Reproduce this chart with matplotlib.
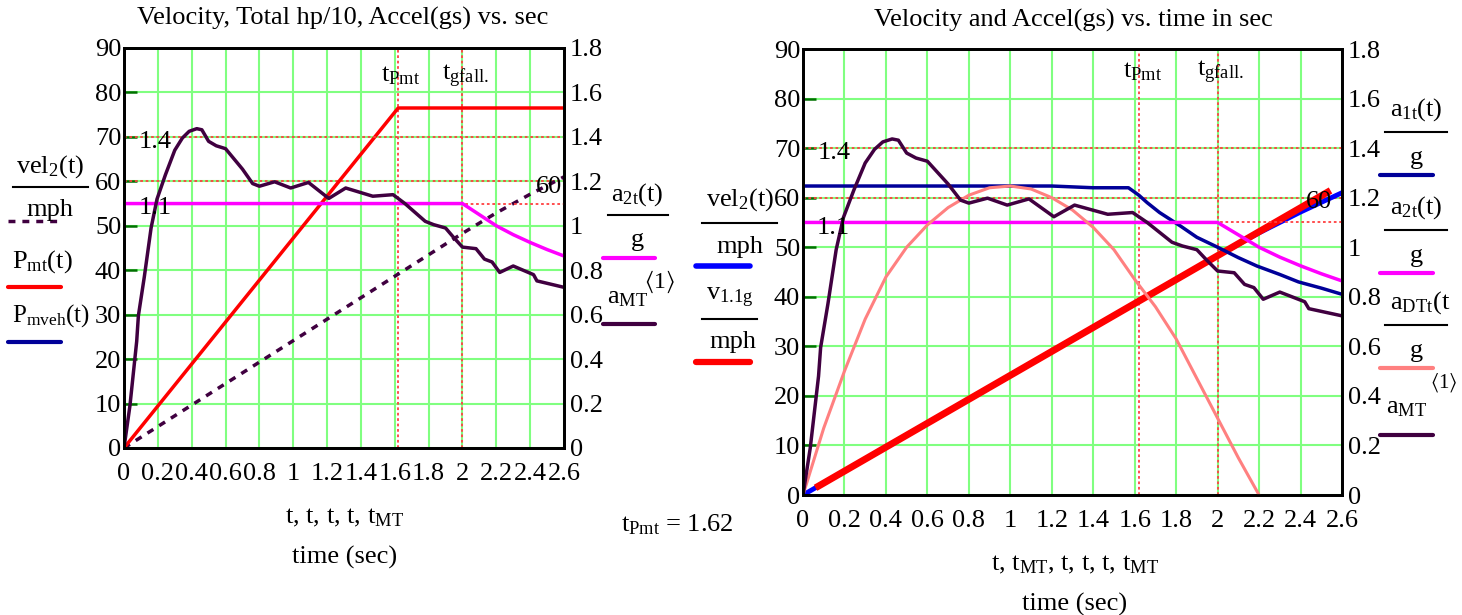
import numpy as np
import matplotlib
matplotlib.use('Agg')
import matplotlib.pyplot as plt
from matplotlib.lines import Line2D

plt.rcParams['font.family'] = 'Liberation Serif'
plt.rcParams['mathtext.fontset'] = 'custom'
plt.rcParams['mathtext.rm'] = 'Liberation Serif'
plt.rcParams['mathtext.it'] = 'Liberation Serif'
plt.rcParams['mathtext.default'] = 'regular'

W, H = 1462, 615

# ---- data ----
t_vel = [0, 2.0, 2.2, 2.4, 2.6]
vel2_mph = [0, 48.3, 52.9, 57.1, 61.0]

t_pmt = [0, 1.62, 2.6]
P_mt = [0, 76.5, 76.5]

t_v11 = [0.075, 2.53]
v11g_mph = [1.8, 61.1]

t_a1 = [0, 1.2, 1.4, 1.57, 1.62, 1.66, 1.72, 1.82, 1.9, 2.0, 2.1, 2.19, 2.3, 2.39, 2.5, 2.6]
a1t_g = [1.247, 1.247, 1.24, 1.24, 1.21, 1.18, 1.14, 1.086, 1.04, 1.0, 0.958, 0.924,
         0.89, 0.86, 0.835, 0.81]

t_a2 = [0, 2.0, 2.1, 2.2, 2.3, 2.4, 2.5, 2.6]
a2t_g = [1.10, 1.10, 1.05, 1.0, 0.96, 0.925, 0.893, 0.864]

t_dt = [0, 0.1, 0.2, 0.3, 0.4, 0.5, 0.6, 0.7, 0.8, 0.9, 1.0, 1.1, 1.2, 1.3, 1.4,
        1.5, 1.6, 1.7, 1.8, 1.9, 2.0, 2.1, 2.2]
aDTt_g = [0, 0.27, 0.5, 0.71, 0.88, 1.0, 1.09, 1.16, 1.21, 1.24, 1.247, 1.235, 1.2,
          1.15, 1.08, 0.99, 0.87, 0.76, 0.63, 0.47, 0.31, 0.15, 0.0]

t_MT = [0, 0.035, 0.075, 0.085, 0.12, 0.16, 0.195, 0.245, 0.30, 0.345, 0.385, 0.43,
        0.46, 0.50, 0.545, 0.60, 0.70, 0.76, 0.80, 0.89, 0.985, 1.09, 1.21, 1.31,
        1.47, 1.59, 1.66, 1.78, 1.83, 1.90, 1.945, 2.0, 2.08, 2.13, 2.175, 2.22,
        2.30, 2.42, 2.44, 2.6]
a_MT = [0, 0.19, 0.48, 0.595, 0.77, 0.99, 1.12, 1.23, 1.34, 1.395, 1.425, 1.437,
        1.432, 1.38, 1.36, 1.347, 1.255, 1.19, 1.178, 1.198, 1.17, 1.195, 1.123, 1.17,
        1.133, 1.14, 1.10, 1.02, 1.005, 0.99, 0.95, 0.904, 0.897, 0.85, 0.837, 0.79,
        0.819, 0.78, 0.752, 0.723]

t_Pmt = 1.62
t_gfall = 2.0
marks_g = [1.4, 1.1]
mark_mph = 60

RED = '#FF0000'
MAG = '#FF00FF'
PURP = '#400040'
NAVY = '#000099'
BLUE = '#0000FF'
SALMON = '#FF8080'
GRID = '#80FF80'
DKGREEN = '#007000'
MARK = '#FF4040'
FS = 19

fig = plt.figure(figsize=(W / 100, H / 100), dpi=100)


def setup(rect):
    ax = fig.add_axes(rect)
    ax.set_xlim(0, 2.6)
    ax.set_ylim(0, 90)
    xt = np.round(np.arange(0, 2.61, 0.2), 1)
    ax.set_xticks(xt)
    ax.set_xticklabels([f'{v:g}' for v in xt])
    ax.set_yticks(range(0, 91, 10))
    ax.grid(True, color=GRID, lw=1.5)
    ax.tick_params(axis='y', direction='in', length=9, width=1.8, color=DKGREEN,
                   labelsize=FS, pad=2)
    ax.tick_params(axis='x', length=0, labelsize=FS, pad=11)
    for s in ax.spines.values():
        s.set_linewidth(2)
    dots = (0, (1.5, 1.5))
    ax.axvline(t_Pmt, color=MARK, ls=dots, lw=1.3, zorder=1.8)
    ax.axvline(t_gfall, color=MARK, ls=dots, lw=1.3, zorder=1.8)
    ax.axhline(mark_mph, color=MARK, ls=dots, lw=1.3, zorder=1.8)
    ax2 = ax.twinx()
    ax2.set_ylim(0, 1.8)
    yt = np.round(np.arange(0, 1.81, 0.2), 1)
    ax2.set_yticks(yt)
    ax2.set_yticklabels([f'{v:g}' for v in yt])
    ax2.tick_params(axis='y', length=0, labelsize=FS, pad=4)
    for s in ax2.spines.values():
        s.set_linewidth(2)
    for m in marks_g:
        ax2.axhline(m, color=MARK, ls=dots, lw=1.3, zorder=0.5)
    return ax, ax2


def ftext(x, y, s, **kw):
    kw.setdefault('fontsize', FS)
    kw.setdefault('va', 'center')
    fig.text(x / W, 1 - y / H, s, **kw)


def fline(x0, x1, y, **kw):
    fig.add_artist(Line2D([x0 / W, x1 / W], [1 - y / H] * 2,
                          transform=fig.transFigure, **kw))


# ---- left chart ----
axL, axL2 = setup([124 / W, 1 - 448 / H, 440 / W, 400 / H])
axL.plot(t_vel, vel2_mph, color=PURP, lw=2.5, dashes=(2, 2))
axL.plot(t_pmt, P_mt, color=RED, lw=2.5)
axL2.plot(t_a2, a2t_g, color=MAG, lw=2.5)
axL2.plot(t_MT, a_MT, color=PURP, lw=2.5)

# ---- right chart ----
axR, axR2 = setup([803 / W, 1 - 495 / H, 539 / W, 446 / H])
axR.plot(t_vel, vel2_mph, color=BLUE, lw=3.5)
axR.plot(t_v11, v11g_mph, color=RED, lw=5)
axR2.plot(t_a1, a1t_g, color=NAVY, lw=2.5)
axR2.plot(t_a2, a2t_g, color=MAG, lw=2.5)
axR2.plot(t_dt, aDTt_g, color=SALMON, lw=2.2)
axR2.plot(t_MT, a_MT, color=PURP, lw=2.5)

# titles and axis captions
ftext(343, 18, 'Velocity, Total hp/10, Accel(gs) vs. sec', ha='center')
ftext(1073, 20, 'Velocity and Accel(gs) vs. time in sec', ha='center')
ftext(345, 518, r't, t, t, t, $t_{MT}$', ha='center')
ftext(345, 557, 'time (sec)', ha='center')
ftext(1075, 565, r't, $t_{MT}$, t, t, t, $t_{MT}$', ha='center')
ftext(1075, 604, 'time (sec)', ha='center')
ftext(621, 525, r'$t_{Pmt}$ = 1.62', ha='left')

# marker labels inside the plots
ftext(381, 76, r'$t_{Pmt}$', ha='left')
ftext(442, 76, r'$t_{gfall.}$', ha='left')
ftext(1123, 72, r'$t_{Pmt}$', ha='left')
ftext(1197, 72, r'$t_{gfall.}$', ha='left')
ftext(139, 142, '1.4', ha='left')
ftext(139, 208, '1.1', ha='left')
ftext(536, 187, '60', ha='left')
ftext(818, 153, '1.4', ha='left')
ftext(817, 228, '1.1', ha='left')
ftext(1306, 202, '60', ha='left')

# left legend
lw_s = 3
ftext(50, 167, r'$vel_2(t)$', ha='center')
fline(13, 88, 187, color='black', lw=1.5)
ftext(50, 210, 'mph', ha='center')
fline(8, 61, 221, color=PURP, lw=2.5, dashes=(2, 2))
ftext(12, 262, r'$P_{mt}(t)$', ha='left')
fline(8, 61, 287, color=RED, lw=lw_s, solid_capstyle='round')
ftext(12, 316, r'$P_{mveh}(t)$', ha='left', fontsize=18)
fline(8, 61, 342, color=NAVY, lw=lw_s, solid_capstyle='round')

# middle legends
ftext(637, 195, r'$a_{2t}(t)$', ha='center')
fline(608, 668, 215, color='black', lw=1.5)
ftext(637, 240, 'g', ha='center')
fline(603, 655, 258, color=MAG, lw=lw_s, solid_capstyle='round')
ftext(607, 298, r'$a_{MT}$', ha='left')
ftext(644, 282, r'$\langle 1\rangle$', ha='left', fontsize=17)
fline(603, 655, 324, color=PURP, lw=lw_s, solid_capstyle='round')

ftext(740, 200, r'$vel_2(t)$', ha='center')
fline(702, 777, 223, color='black', lw=1.5)
ftext(740, 247, 'mph', ha='center')
fline(696, 750, 266, color=BLUE, lw=4, solid_capstyle='round')
ftext(730, 298, r'$v_{1.1g}$', ha='center')
fline(702, 757, 319, color='black', lw=1.5)
ftext(733, 342, 'mph', ha='center')
fline(696, 750, 362, color=RED, lw=4.5, solid_capstyle='round')

# right legend
for y0, lab, col in [(110, r'$a_{1t}(t)$', NAVY), (208, r'$a_{2t}(t)$', MAG),
                     (303, r'$a_{DTt}(t$', SALMON)]:
    ftext(1390, y0, lab, ha='left')
    fline(1385, 1447, y0 + 22, color='black', lw=1.5)
    ftext(1416, y0 + 48, 'g', ha='center')
    fline(1380, 1433, y0 + 65, color=col, lw=lw_s, solid_capstyle='round')
ftext(1386, 408, r'$a_{MT}$', ha='left')
ftext(1430, 383, r'$\langle 1\rangle$', ha='left', fontsize=15)
fline(1380, 1433, 435, color=PURP, lw=lw_s, solid_capstyle='round')

fig.savefig('out.png', dpi=100)
